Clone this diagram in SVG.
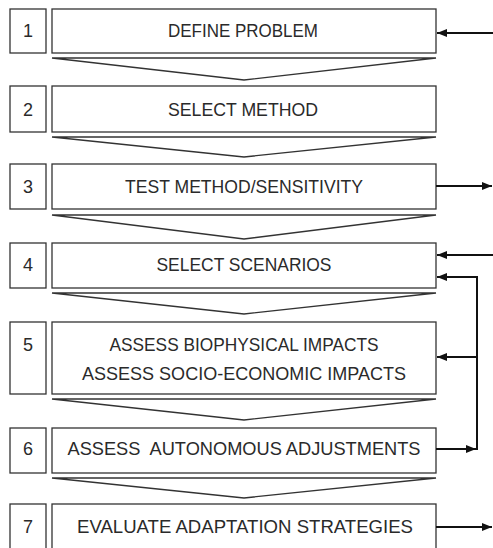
<svg xmlns="http://www.w3.org/2000/svg" width="493" height="548" viewBox="0 0 493 548">
<defs>
<marker id="ah" viewBox="0 0 10 8" refX="10" refY="4" markerWidth="10" markerHeight="8" markerUnits="userSpaceOnUse" orient="auto">
<path d="M0,0 L10,4 L0,8 Z" fill="#111"/>
</marker>
<style>
.num{fill:#fff;stroke:#333;stroke-width:1.3}
.box{fill:#fff;stroke:#333;stroke-width:1.3}
.chev{fill:#fff;stroke:#333;stroke-width:1.3;stroke-linejoin:miter}
.t{font-family:"Liberation Sans",Arial,sans-serif;font-size:18px;fill:#2a2a2a;text-anchor:middle}
.a{fill:none;stroke:#111;stroke-width:2}
</style>
</defs>
<rect width="493" height="548" fill="#fff"/>
<g id="chevrons">
<polygon class="chev" points="52,58 436,58 244,80"/>
<polygon class="chev" points="52,137 436,137 244,157"/>
<polygon class="chev" points="52,215 436,215 244,239"/>
<polygon class="chev" points="52,293 436,293 244,314"/>
<polygon class="chev" points="52,399 436,399 244,420"/>
<polygon class="chev" points="52,478 436,478 244,498"/>
</g>
<g id="step1">
<rect class="num" x="10" y="9" width="36" height="44"/>
<text class="t" x="28" y="37">1</text>
<rect class="box" x="52" y="9" width="384" height="44"/>
<text class="t" x="243" y="37" textLength="150" lengthAdjust="spacingAndGlyphs">DEFINE PROBLEM</text>
</g>
<g id="step2">
<rect class="num" x="10" y="86" width="36" height="46"/>
<text class="t" x="28" y="116">2</text>
<rect class="box" x="52" y="86" width="384" height="46"/>
<text class="t" x="243" y="116" textLength="150" lengthAdjust="spacingAndGlyphs">SELECT METHOD</text>
</g>
<g id="step3">
<rect class="num" x="10" y="164" width="36" height="45"/>
<text class="t" x="28" y="193">3</text>
<rect class="box" x="52" y="164" width="384" height="45"/>
<text class="t" x="244" y="193" textLength="238" lengthAdjust="spacingAndGlyphs">TEST METHOD/SENSITIVITY</text>
</g>
<g id="step4">
<rect class="num" x="10" y="243" width="36" height="45"/>
<text class="t" x="28" y="271">4</text>
<rect class="box" x="52" y="243" width="384" height="45"/>
<text class="t" x="244" y="271" textLength="175" lengthAdjust="spacingAndGlyphs">SELECT SCENARIOS</text>
</g>
<g id="step5">
<rect class="num" x="10" y="322" width="36" height="72"/>
<text class="t" x="28" y="351">5</text>
<rect class="box" x="52" y="322" width="384" height="72"/>
<text class="t" x="244" y="351" textLength="269" lengthAdjust="spacingAndGlyphs">ASSESS BIOPHYSICAL IMPACTS</text>
<text class="t" x="244" y="380" textLength="324" lengthAdjust="spacingAndGlyphs">ASSESS SOCIO-ECONOMIC IMPACTS</text>
</g>
<g id="step6">
<rect class="num" x="10" y="428" width="36" height="45"/>
<text class="t" x="28" y="455">6</text>
<rect class="box" x="52" y="428" width="384" height="45"/>
<text class="t" x="244" y="455" textLength="353" lengthAdjust="spacingAndGlyphs" style="white-space:pre">ASSESS  AUTONOMOUS ADJUSTMENTS</text>
</g>
<g id="step7">
<rect class="num" x="10" y="504" width="36" height="60"/>
<text class="t" x="28" y="533">7</text>
<rect class="box" x="52" y="504" width="384" height="60"/>
<text class="t" x="245" y="533" textLength="336" lengthAdjust="spacingAndGlyphs">EVALUATE ADAPTATION STRATEGIES</text>
</g>
<g id="connectors">
<line class="a" x1="493" y1="33" x2="437" y2="33" marker-end="url(#ah)"/>
<line class="a" x1="436" y1="186" x2="492" y2="186" marker-end="url(#ah)"/>
<line class="a" x1="493" y1="255" x2="437" y2="255" marker-end="url(#ah)"/>
<line class="a" x1="436" y1="449" x2="476" y2="449" marker-end="url(#ah)"/>
<polyline class="a" points="477,450 477,277 437,277" marker-end="url(#ah)"/>
<line class="a" x1="477" y1="357" x2="437" y2="357" marker-end="url(#ah)"/>
<line class="a" x1="436" y1="527" x2="492" y2="527" marker-end="url(#ah)"/>
</g>
</svg>
